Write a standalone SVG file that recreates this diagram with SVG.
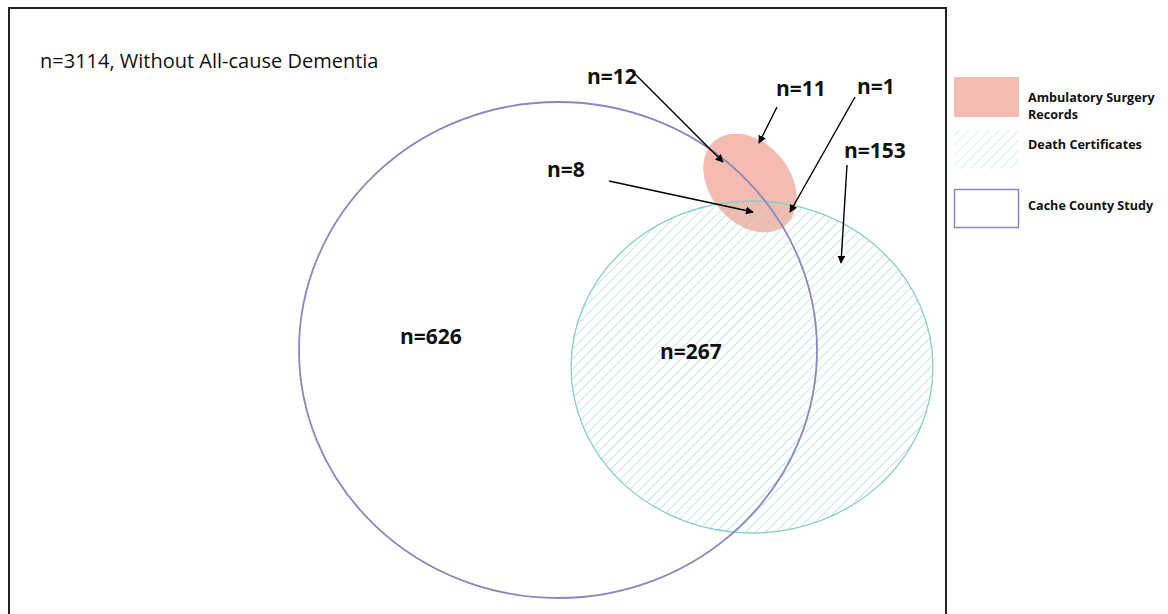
<svg xmlns="http://www.w3.org/2000/svg" width="1168" height="614" viewBox="0 0 1168 614">
<defs>
<pattern id="hatch" patternUnits="userSpaceOnUse" width="7" height="7" patternTransform="rotate(45)">
<line x1="0" y1="0" x2="0" y2="7" stroke="#8fd3c6" stroke-width="1.1"/>
</pattern>
<marker id="ah" viewBox="0 0 10 10" refX="9" refY="5" markerWidth="8" markerHeight="8" markerUnits="userSpaceOnUse" orient="auto">
<path d="M0,0 L10,5 L0,10 z" fill="#000"/>
</marker>
<style>
.lbl{font-family:"Open Sans","Liberation Sans",sans-serif;font-weight:bold;font-size:21px;fill:#111}
.leg{font-family:"Open Sans","Liberation Sans",sans-serif;font-weight:bold;font-size:12.6px;fill:#111}
.arr{stroke:#000;stroke-width:1.4;fill:none;marker-end:url(#ah)}
</style>
</defs>
<rect width="1168" height="614" fill="#fff"/>
<path d="M9,620 L9,8 L946,8 L946,620" fill="none" stroke="#222" stroke-width="2"/>
<text x="40" y="68" font-family="'Open Sans','Liberation Sans',sans-serif" font-size="20" fill="#111">n=3114, Without All-cause Dementia</text>

<g id="ambulatory">
<ellipse cx="750" cy="183" rx="55" ry="40" transform="rotate(50 750 183)" fill="#f4bcb0"/>
</g>
<g id="death">
<ellipse cx="752" cy="367" rx="181" ry="166" fill="url(#hatch)" stroke="#86d0c2" stroke-width="1.3"/>
</g>
<g id="cache">
<ellipse cx="558" cy="350" rx="259" ry="248" fill="none" stroke="#8a87c2" stroke-width="1.8"/>
</g>

<g id="labels">
<text class="lbl" x="587" y="84">n=12</text>
<text class="lbl" x="776" y="96">n=11</text>
<text class="lbl" x="857" y="94">n=1</text>
<text class="lbl" x="844" y="158">n=153</text>
<text class="lbl" x="547" y="177">n=8</text>
<text class="lbl" x="400" y="344">n=626</text>
<text class="lbl" x="660" y="359">n=267</text>
</g>

<g id="connectors">
<line class="arr" x1="631" y1="70" x2="723" y2="162"/>
<line class="arr" x1="777" y1="107" x2="759" y2="143"/>
<line class="arr" x1="855" y1="97" x2="790" y2="212"/>
<line class="arr" x1="847" y1="165" x2="841" y2="263"/>
<line class="arr" x1="609" y1="181" x2="753" y2="212"/>
</g>

<g id="legend">
<g id="legend-ambulatory">
<rect x="954" y="77" width="65" height="40" fill="#f4bcb0"/>
<text class="leg" x="1028" y="102">Ambulatory Surgery</text>
<text class="leg" x="1028" y="119">Records</text>
</g>
<g id="legend-death">
<rect x="954" y="130" width="65" height="39" fill="url(#hatch)" opacity="0.6"/>
<text class="leg" x="1028" y="149">Death Certificates</text>
</g>
<g id="legend-cache">
<rect x="954.5" y="189.5" width="64" height="38" fill="none" stroke="#8a87c2" stroke-width="1.5"/>
<text class="leg" x="1028" y="210">Cache County Study</text>
</g>
</g>
</svg>
